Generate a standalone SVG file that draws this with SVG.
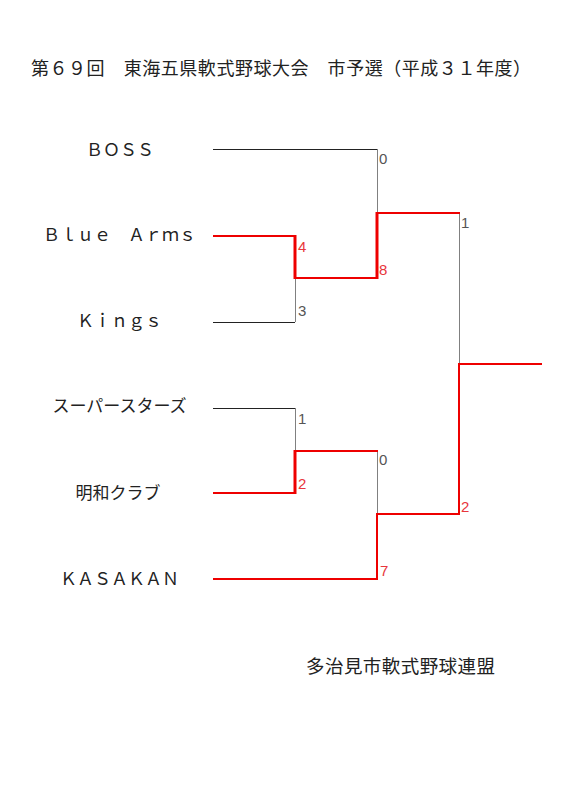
<svg xmlns="http://www.w3.org/2000/svg" width="566" height="800" viewBox="0 0 566 800">
<style>
.ttl{font-family:"Noto Sans CJK JP","Liberation Sans",sans-serif;font-size:18px;fill:#222}
.team{font-family:"Noto Sans CJK JP","Liberation Sans",sans-serif;font-size:17px;fill:#222;text-anchor:middle}
.sc{font-family:"Liberation Sans",sans-serif;font-size:15px;fill:#555}
.scr{font-family:"Liberation Sans",sans-serif;font-size:15px;fill:#e8363c}
.lh{stroke:#222;stroke-width:1;fill:none}
.lv{stroke:#808080;stroke-width:1;fill:none}
.rh{stroke:#ee0000;stroke-width:2;fill:none}
.rv{stroke:#ee0000;stroke-width:3;fill:none}
.rv2{stroke:#ee0000;stroke-width:2;fill:none}
</style>
<rect width="566" height="800" fill="#fff"/>
<text class="ttl" x="31" y="75" textLength="500" lengthAdjust="spacing">第６９回　東海五県軟式野球大会　市予選（平成３１年度）</text>
<g id="connectors">
<line class="lh" x1="213" y1="149.5" x2="377" y2="149.5"/>
<line class="lv" x1="377.5" y1="149" x2="377.5" y2="213"/>
<line class="lh" x1="213" y1="322.5" x2="295" y2="322.5"/>
<line class="lv" x1="295.5" y1="278" x2="295.5" y2="322"/>
<line class="lh" x1="213" y1="408.5" x2="295" y2="408.5"/>
<line class="lv" x1="295.5" y1="408" x2="295.5" y2="451"/>
<line class="lv" x1="377.5" y1="451" x2="377.5" y2="514"/>
<line class="lv" x1="459.5" y1="214" x2="459.5" y2="364"/>
<line class="rh" x1="213" y1="236" x2="296" y2="236"/>
<line class="rv" x1="295" y1="235" x2="295" y2="279"/>
<line class="rh" x1="295" y1="278" x2="378" y2="278"/>
<line class="rv" x1="377" y1="212" x2="377" y2="279"/>
<line class="rh" x1="377" y1="213" x2="460" y2="213"/>
<line class="rh" x1="213" y1="493" x2="296" y2="493"/>
<line class="rv" x1="295" y1="450" x2="295" y2="494"/>
<line class="rh" x1="295" y1="451" x2="378" y2="451"/>
<line class="rh" x1="213" y1="579" x2="378" y2="579"/>
<line class="rv2" x1="377" y1="513" x2="377" y2="580"/>
<line class="rh" x1="377" y1="514" x2="460" y2="514"/>
<line class="rv2" x1="459" y1="363" x2="459" y2="515"/>
<line class="rh" x1="459" y1="364" x2="542" y2="364"/>
</g>
<g id="team-boss"><text class="team" x="120" y="156">ＢＯＳＳ</text></g>
<g id="team-bluearms"><text class="team" x="119.5" y="241">Ｂｌｕｅ　Ａｒｍｓ</text></g>
<g id="team-kings"><text class="team" x="119.5" y="327">Ｋｉｎｇｓ</text></g>
<g id="team-superstars"><text class="team" x="119.5" y="412">スーパースターズ</text></g>
<g id="team-meiwa"><text class="team" x="118" y="499">明和クラブ</text></g>
<g id="team-kasakan"><text class="team" x="119.5" y="585">ＫＡＳＡＫＡＮ</text></g>
<g id="scores">
<text class="sc" x="379" y="164">0</text>
<text class="scr" x="298" y="252">4</text>
<text class="scr" x="379" y="275">8</text>
<text class="sc" x="298" y="316">3</text>
<text class="sc" x="298" y="424">1</text>
<text class="scr" x="298" y="489">2</text>
<text class="sc" x="379" y="465">0</text>
<text class="scr" x="380" y="576">7</text>
<text class="sc" x="461" y="228">1</text>
<text class="scr" x="461" y="512">2</text>
</g>
<text class="ttl" x="306" y="673" style="font-size:18.5px" textLength="189" lengthAdjust="spacing">多治見市軟式野球連盟</text>
</svg>
